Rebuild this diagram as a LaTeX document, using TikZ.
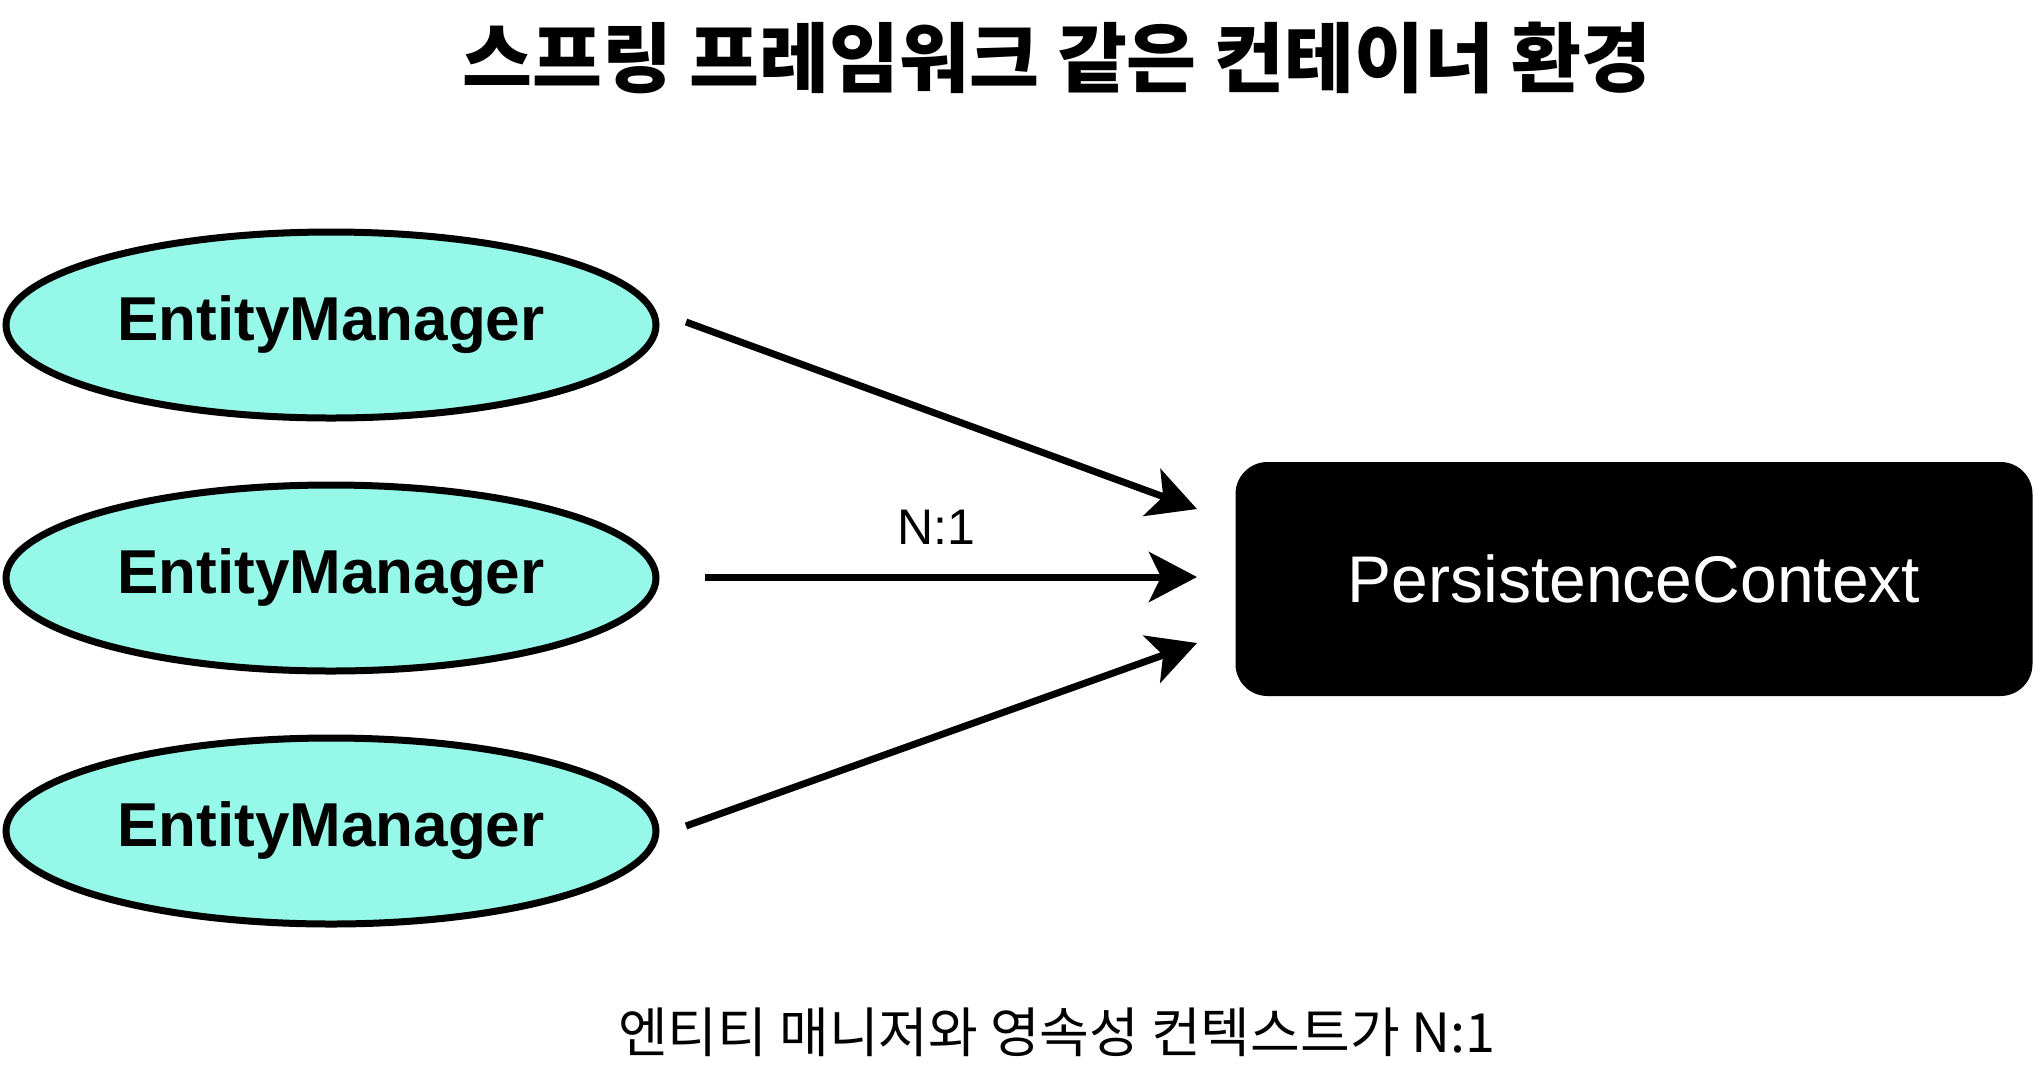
\documentclass[tikz,border=0pt]{standalone}
\usepackage{fontspec}
\setmainfont{Liberation Sans}
\newfontfamily\kr{Noto Sans CJK KR}
\usetikzlibrary{shapes.geometric,arrows.meta}
\definecolor{emfill}{RGB}{150,248,232}
\begin{document}
\begin{tikzpicture}[x=0.5pt,y=-0.5pt,
 em/.style={ellipse, draw=black, line width=3.5pt, fill=emfill, minimum width=325pt, minimum height=93pt, inner sep=0pt, font=\bfseries\fontsize{31}{36}\selectfont},
 pcbox/.style={rectangle, rounded corners=16pt, fill=black, text=white, minimum width=398.5pt, minimum height=117pt, font=\fontsize{33}{40}\selectfont},
 arr/.style={line width=3.5pt, -{Stealth[length=24pt,width=25pt,inset=6pt,fill=black]}},
 lbl/.style={font=\fontsize{25}{30}\selectfont},
 ttl/.style={font=\kr\bfseries\fontsize{38}{46}\selectfont},
 captext/.style={font=\kr\fontsize{27}{32}\selectfont}]
\useasboundingbox (0,0) rectangle (2036,1078);
\node[ttl] (title) at (1057,58) {스프링 프레임워크 같은 컨테이너 환경};
\node[em] (e1) at (331,325) {EntityManager};
\node[em] (e2) at (331,578) {EntityManager};
\node[em] (e3) at (331,831) {EntityManager};
\node[pcbox] (pc) at (1634,579) {PersistenceContext};
\coordinate (s1) at (686,322);
\coordinate (t1) at (1197,509);
\coordinate (s2) at (705,577);
\coordinate (t2) at (1197,577);
\coordinate (s3) at (686,826);
\coordinate (t3) at (1197,643);
\draw[arr] (s1) -- (t1);
\draw[arr] (s2) -- (t2);
\draw[arr] (s3) -- (t3);
\node[lbl] (n1) at (936,527) {N:1};
\node[captext] (caption) at (1057,1032) {엔티티 매니저와 영속성 컨텍스트가 N:1};
\end{tikzpicture}
\end{document}
